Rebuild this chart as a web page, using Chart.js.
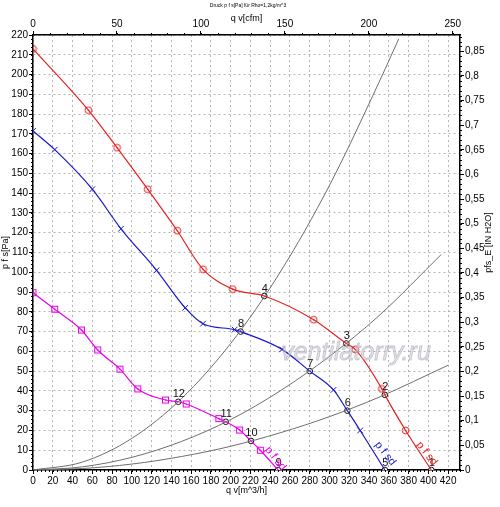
<!DOCTYPE html>
<html>
<head>
<meta charset="utf-8">
<script src="https://cdn.jsdelivr.net/npm/chart.js@4.4.0/dist/chart.umd.min.js"></script>
<style>
  html, body { margin: 0; padding: 0; background: #fff; }
  #wrap { width: 500px; height: 507px; }
</style>
</head>
<body>
<div id="wrap"><canvas id="kennlinie"></canvas></div>
<script>
// fan curves, q v [m^3/h] against p f s [Pa]
var redQ  = [0, 56, 85, 116, 146, 172, 202, 234, 284, 317, 326, 353, 356, 377, 403];
var redP  = [213, 182, 163, 142, 121, 101.5, 91.5, 88, 76, 64, 61, 41, 38, 20, 0];
var blueQ = [0, 22, 60, 89, 125, 154, 172, 204, 210, 252, 280, 304, 318, 331, 356];
var blueP = [171.5, 162, 142, 122, 101, 82, 74, 71, 70, 61, 50, 40.5, 30, 20, 0];
var magQ  = [0, 22, 49, 65.5, 88, 106, 134, 147, 155, 188, 195, 209, 220.5, 230, 248];
var magP  = [89.7, 81.3, 70.8, 60.7, 51, 41, 35.4, 34.5, 33.4, 26, 24.4, 20.2, 14.7, 10, 0];

// system curves (grey)
var sysAQ = [0, 50, 100, 150, 200, 250, 300, 350, 370];
var sysAP = [0, 4, 16, 36, 64, 100, 144, 196, 218];
var sysBQ = [0, 50, 100, 150, 200, 250, 300, 350, 413];
var sysBP = [0, 1.6, 6.4, 14.4, 25.5, 40, 57.5, 78, 109];
var sysCQ = [0, 50, 100, 150, 200, 250, 300, 350, 420];
var sysCP = [0, 0.75, 3, 6.8, 12, 18.8, 27, 36.8, 53];

// numbered operating points
var opNr = ['1', '2', '3', '4', '5', '6', '7', '8', '9', '10', '11', '12'];
var opQ  = [403, 356, 317, 234, 356, 318, 280, 210, 248, 220.5, 195, 147];
var opP  = [0, 38, 64, 88, 0, 30, 50, 70, 0, 14.7, 24.4, 34.5];

var maxQ = 432;                 // m^3/h
var maxP = 220;                 // Pa
var cfm = 1.699;                // m^3/h per cfm
var inH2O = 249.089;            // Pa per inch H2O

var ROT = 'rgb(232,32,32)';
var BLAU = 'rgb(24,24,204)';
var MAG = 'rgb(232,0,232)';
var GRAU = 'rgb(110,110,110)';
var FONT = '"Liberation Sans", Arial, sans-serif';

function punkte(qs, ps) {
    var out = [];
    qs.forEach(function (q, i) { out.push({x: q, y: ps[i]}); });
    return out;
}

function istBetriebspunkt(p) {
    if (!p) return false;
    for (var i = 0; i < opQ.length; i++) {
        if (Math.abs(opQ[i] - p.x) < 0.01 && Math.abs(opP[i] - p.y) < 0.01) return true;
    }
    return false;
}

// little marker pictures: open circle / square with a dot in the middle
function marker(farbe, form) {
    var c = document.createElement('canvas');
    c.width = 9; c.height = 9;
    var g = c.getContext('2d');
    g.strokeStyle = farbe;
    g.fillStyle = farbe;
    g.lineWidth = 1;
    if (form === 'kreis') {
        g.beginPath(); g.arc(4.5, 4.5, 3.4, 0, Math.PI * 2); g.stroke();
    } else {
        g.strokeRect(1.5, 1.5, 6, 6);
    }
    g.fillRect(4, 4, 1.2, 1.2);
    return c;
}
var kreisRot = marker(ROT, 'kreis');
var quadMag = marker(MAG, 'quad');

function kurve(label, qs, ps, farbe, stil, radius) {
    return {
        label: label,
        data: punkte(qs, ps),
        borderColor: farbe,
        backgroundColor: farbe,
        borderWidth: 1.2,
        cubicInterpolationMode: 'monotone',
        pointStyle: stil,
        pointBorderColor: farbe,
        pointBorderWidth: 1,
        pointRadius: function (ctx) { return istBetriebspunkt(ctx.raw) ? 0 : radius; },
        pointHoverRadius: 0,
        xAxisID: 'x', yAxisID: 'y'
    };
}

function anlage(qs, ps) {
    return {
        data: punkte(qs, ps),
        borderColor: GRAU,
        borderWidth: 1,
        cubicInterpolationMode: 'monotone',
        pointRadius: 0,
        xAxisID: 'x', yAxisID: 'y'
    };
}

var betriebspunkte = {
    data: punkte(opQ, opP),
    showLine: false,
    pointStyle: 'circle',
    pointRadius: 2.8,
    pointBorderWidth: 1,
    pointBorderColor: '#111',
    pointBackgroundColor: '#fff',
    xAxisID: 'x', yAxisID: 'y'
};

// numbers, curve names, watermark, header texts
var beschriftung = {
    id: 'beschriftung',
    afterDatasetsDraw: function (chart) {
        var ctx = chart.ctx, sx = chart.scales.x, sy = chart.scales.y, a = chart.chartArea;
        ctx.save();
        ctx.font = 'italic 25px ' + FONT;
        ctx.fillStyle = 'rgba(200,200,210,0.55)';
        ctx.strokeStyle = 'rgba(170,170,185,0.6)';
        ctx.lineWidth = 0.8;
        ctx.textAlign = 'center';
        ctx.textBaseline = 'middle';
        ctx.fillText('ventilatorry.ru', 356, 353);
        ctx.strokeText('ventilatorry.ru', 356, 353);

        ctx.font = '11px ' + FONT;
        ctx.fillStyle = '#111';
        ctx.textBaseline = 'bottom';
        opNr.forEach(function (nr, i) {
            ctx.fillText(nr, sx.getPixelForValue(opQ[i]) + 0.5, sy.getPixelForValue(opP[i]) - 2);
        });

        var namen = [[ROT, 390, 27], [BLAU, 348, 27], [MAG, 237, 22]];
        ctx.font = '11px ' + FONT;
        ctx.textAlign = 'left';
        ctx.textBaseline = 'middle';
        namen.forEach(function (n) {
            ctx.save();
            ctx.translate(sx.getPixelForValue(n[1]), a.bottom - n[2]);
            ctx.rotate(52 * Math.PI / 180);
            ctx.fillStyle = n[0];
            ctx.fillText('p f sd', 0, 0);
            ctx.restore();
        });

        ctx.fillStyle = '#000';
        ctx.textAlign = 'center';
        ctx.font = '5px ' + FONT;
        ctx.fillText('Druck p f s[Pa] für Rho=1,2kg/m^3', 248, 6);
        ctx.save();
        ctx.translate(489, (a.top + a.bottom) / 2 - 10);
        ctx.rotate(-Math.PI / 2);
        ctx.font = '9px ' + FONT;
        ctx.fillText('pfs_E [IN H2O]', 0, 0);
        ctx.restore();
        ctx.restore();
    }
};

// minor tick marks on all four axes
var kleineStriche = {
    id: 'kleineStriche',
    afterDraw: function (chart) {
        var ctx = chart.ctx, s = chart.scales, a = chart.chartArea, v, px;
        ctx.save();
        ctx.strokeStyle = '#000';
        ctx.lineWidth = 1;
        ctx.beginPath();
        for (v = 0; v <= maxP; v += 2) {
            px = Math.round(s.y.getPixelForValue(v)) + 0.5;
            ctx.moveTo(a.left, px); ctx.lineTo(a.left - 2, px);
        }
        for (v = 0; v <= maxP / inH2O; v += 0.01) {
            px = Math.round(s.y2.getPixelForValue(v)) + 0.5;
            ctx.moveTo(a.right, px); ctx.lineTo(a.right + 2, px);
        }
        for (v = 0; v <= maxQ; v += 4) {
            px = Math.round(s.x.getPixelForValue(v)) + 0.5;
            ctx.moveTo(px, a.bottom); ctx.lineTo(px, a.bottom + 2);
        }
        for (v = 0; v <= maxQ / cfm; v += 10) {
            px = Math.round(s.x2.getPixelForValue(v)) + 0.5;
            ctx.moveTo(px, a.top); ctx.lineTo(px, a.top - 2);
        }
        ctx.stroke();
        ctx.restore();
    }
};

var schrift = {family: FONT, size: 10};
var klein = {family: FONT, size: 9};

function achse(pos, max, step, gitter, titel, groesse) {
    return {
        type: 'linear',
        position: pos,
        min: 0,
        max: max,
        title: {display: titel !== '', text: titel, color: '#000', font: klein, padding: {top: 3, bottom: 1}},
        ticks: {
            stepSize: step, includeBounds: false, color: '#000', font: schrift,
            padding: 1, maxRotation: 0, autoSkip: false
        },
        grid: {
            display: true,
            drawOnChartArea: gitter,
            color: '#b4b4b4',
            lineWidth: 1,
            tickColor: '#000',
            tickLength: 4
        },
        border: {display: true, color: '#000', width: 1.5, dash: [2, 3]},
        afterFit: function (scale) {
            if (scale.isHorizontal()) scale.height = groesse; else scale.width = groesse;
        }
    };
}

var skalen = {
    x: achse('bottom', maxQ, 20, true, 'q v[m^3/h]', 27),
    x2: achse('top', maxQ / cfm, 50, false, 'q v[cfm]', 25),
    y: achse('left', maxP, 10, true, 'p f s[Pa]', 33),
    y2: achse('right', maxP / inH2O, 0.05, false, '', 40)
};
skalen.y.title.padding = {top: 0, bottom: 4};
skalen.y2.ticks.callback = function (v) {
    return String(Number(v.toFixed(2))).replace('.', ',');
};

new Chart(document.getElementById('kennlinie').getContext('2d'), {
    type: 'scatter',
    data: {
        datasets: [
            anlage(sysAQ, sysAP),
            anlage(sysBQ, sysBP),
            anlage(sysCQ, sysCP),
            kurve('p f sd rot', redQ, redP, ROT, kreisRot, 4.5),
            kurve('p f sd blau', blueQ, blueP, BLAU, 'crossRot', 4),
            kurve('p f sd magenta', magQ, magP, MAG, quadMag, 4.5),
            betriebspunkte
        ]
    },
    options: {
        responsive: true,
        maintainAspectRatio: false,
        animation: false,
        showLine: true,
        layout: {padding: {left: 0, right: 0, top: 10, bottom: 10}},
        plugins: {
            legend: {display: false},
            tooltip: {enabled: false}
        },
        scales: skalen
    },
    plugins: [beschriftung, kleineStriche]
});
</script>
</body>
</html>
